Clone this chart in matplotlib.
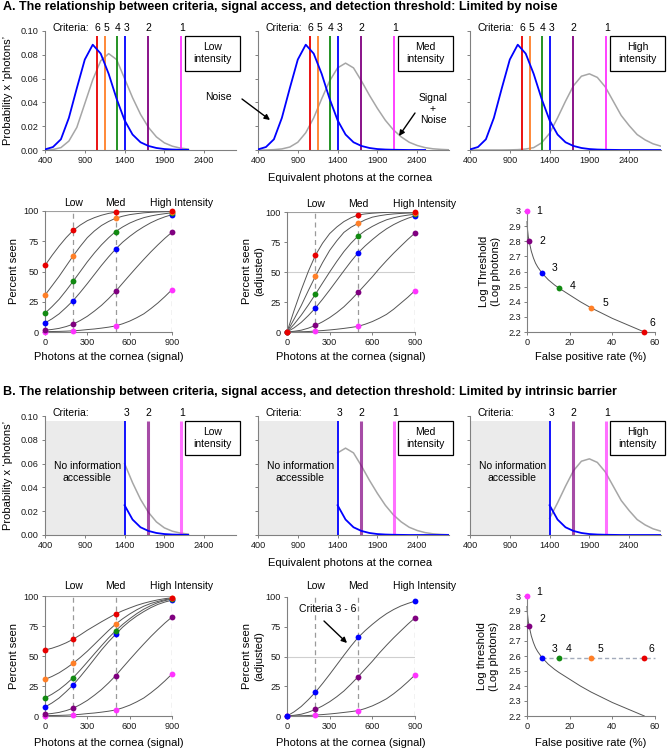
import matplotlib
matplotlib.use('Agg')
import matplotlib.pyplot as plt
from matplotlib.patches import Rectangle
from matplotlib.ticker import FormatStrFormatter

plt.rcParams['font.family'] = ['Liberation Sans', 'DejaVu Sans']

# ---------------- data ----------------
criteria_labels = ['1', '2', '3', '4', '5', '6']
criteria_x = [2110, 1690, 1410, 1300, 1160, 1050]
criteria_colors = ['#ff33ff', '#800080', '#0000ff', '#128a12', '#ff7f27', '#e80000']

photons = [400, 500, 600, 700, 800, 900, 1000, 1100, 1200, 1300, 1400, 1500, 1600,
           1700, 1800, 1900, 2000, 2100, 2200, 2300, 2400, 2500, 2600, 2700, 2800]
noise = [0.0005, 0.0025, 0.009, 0.027, 0.052, 0.076, 0.0885, 0.081, 0.064, 0.043, 0.025,
         0.013, 0.0065, 0.0034, 0.0017, 0.0008, 0.0004, 0.0002, 0.0001, 0, 0, 0, 0, 0, 0]
signal_low = [0, 0.0004, 0.002, 0.0075, 0.019, 0.039, 0.059, 0.075, 0.081, 0.076, 0.060,
              0.044, 0.030, 0.019, 0.011, 0.006, 0.0032, 0.0016, 0.0008, 0.0004, 0.0002,
              0.0001, 0, 0, 0]
signal_med = [0, 0, 0.0003, 0.0009, 0.0025, 0.0065, 0.0145, 0.027, 0.043, 0.058, 0.069,
              0.073, 0.069, 0.058, 0.046, 0.035, 0.025, 0.017, 0.011, 0.0065, 0.0038,
              0.002, 0.001, 0.0005, 0.0002]
signal_high = [0, 0, 0, 0, 0, 0.0001, 0.0003, 0.0008, 0.002, 0.006, 0.014, 0.027, 0.041,
               0.054, 0.062, 0.064, 0.061, 0.053, 0.041, 0.029, 0.0205, 0.013, 0.0085,
               0.0052, 0.0032]
dist_ticks = [400, 900, 1400, 1900, 2400]
intensity_names = ['Low\nintensity', 'Med\nintensity', 'High\nintensity']

curve_signal = [0, 50, 100, 150, 200, 250, 300, 350, 400, 450, 500, 550, 600, 650, 700,
                750, 800, 850, 900]
dot_signal = [0, 200, 500, 900]
intensity_signal = [200, 500, 900]
intensity_labels = ['Low', 'Med', 'High Intensity']

# percent seen, limited by noise (criteria 1..6)
seen_noise = [
    [0.3, 0.4, 0.5, 0.7, 1, 1.4, 2, 2.5, 3.2, 4, 5, 6.8, 9, 11.8, 15, 19.3, 24, 29.3, 35],
    [1.5, 2.1, 3, 4.5, 6.5, 9.5, 13, 17.3, 22, 27.5, 33.5, 40.3, 47, 53.6, 60, 66.2, 72, 77.5, 82.5],
    [7.5, 10.9, 15, 20.3, 26, 32.8, 40, 47.5, 55, 62, 68.5, 74.2, 79, 83.3, 87, 90.3, 93, 95.2, 97],
    [15.5, 21, 27, 34.3, 42, 50, 58, 65.3, 72, 77.8, 83, 86.8, 90, 92.5, 94.5, 95.9, 97, 97.8, 98.5],
    [30.5, 38.2, 46, 54.5, 63, 70.8, 78, 83.5, 88, 91.3, 94, 95.7, 97, 97.8, 98.5, 98.9, 99.2, 99.4, 99.5],
    [55, 63.3, 71, 78, 84, 88.4, 92, 94.5, 96.5, 98, 99, 99.4, 99.6, 99.8, 99.9, 100, 100, 100, 100],
]
seen_noise_adj = [
    [0, 0.1, 0.2, 0.4, 0.8, 1.2, 1.7, 2.3, 3, 3.8, 4.7, 6.5, 8.7, 11.5, 14.7, 19, 24, 29, 34.5],
    [0, 0.6, 1.5, 3.2, 5.5, 8.5, 12, 16.2, 21, 26.8, 33, 39.5, 46, 53, 59.5, 65.7, 71.5, 77.2, 82.5],
    [0, 3.5, 8, 13.7, 20, 27.3, 35, 43, 51, 58.8, 66, 71.8, 77, 81.8, 86, 89.5, 92.4, 94.8, 96.8],
    [0, 6.5, 14, 22.5, 31.5, 40.8, 50, 58.8, 67, 74, 80, 84.5, 88, 91, 93.5, 95.2, 96.5, 97.4, 98.2],
    [0, 10.8, 22, 34.5, 46.5, 57.8, 68, 76, 83, 87.3, 90.5, 93.5, 95.7, 96.9, 97.8, 98.4, 98.8, 99.1, 99.3],
    [0, 18, 35, 50.5, 64, 74, 82, 87.5, 92, 95.2, 97.5, 98.4, 99, 99.4, 99.7, 99.9, 100, 100, 100],
]
# percent seen, limited by intrinsic barrier
seen_barrier = [
    [0.3, 0.4, 0.5, 0.7, 1, 1.4, 2, 2.5, 3.2, 4, 5, 6.8, 9, 11.8, 15, 19.3, 24, 29.3, 35],
    [1.5, 2.1, 3, 4.5, 6.5, 9.5, 13, 17.3, 22, 27.5, 33.5, 40.3, 47, 53.6, 60, 66.2, 72, 77.5, 82.5],
    [7.5, 10.9, 15, 20.3, 26, 32.8, 40, 47.5, 55, 61.8, 68, 74, 79, 83.3, 87, 90.3, 93, 95, 96.5],
    [15, 18.2, 22, 26.7, 32, 38.3, 45, 51.8, 58.5, 65, 71, 76.3, 81, 85.3, 89, 92, 94.5, 96.2, 97.5],
    [30.5, 33, 36, 39.8, 44, 48.8, 54, 59.7, 65.5, 71.2, 76.5, 81, 85, 88.5, 91.5, 93.8, 95.5, 96.9, 98],
    [55, 56.5, 58.5, 61, 64, 67.6, 71.5, 75, 78.5, 81.8, 85, 87.7, 90, 92.2, 94, 95.5, 96.8, 97.8, 98.5],
]
seen_barrier_adj = [
    [0, 0.1, 0.2, 0.4, 0.8, 1.2, 1.7, 2.3, 3, 3.7, 4.5, 6.3, 8.5, 11.3, 14.5, 18.7, 23.5, 28.8, 34.5],
    [0, 0.6, 1.5, 3.2, 5.5, 8.5, 12, 16.2, 21, 26.8, 33, 39.5, 46, 53, 59.5, 65.7, 71.5, 77.2, 82.5],
    [0, 3.5, 8, 13.7, 20, 27.3, 35, 43, 51, 58.8, 66, 71.8, 77, 81.8, 86, 89.5, 92.4, 94.6, 96.5],
]

fp_rate = [0, 1, 7, 15, 30, 55]
log_thresh_noise = [3.0, 2.8, 2.59, 2.49, 2.36, 2.2]
log_thresh_barrier = [3.0, 2.8, 2.59, 2.59, 2.59, 2.59]
fp_curve_x = [0, 0.1, 0.3, 0.6, 1, 2, 3, 4, 5, 7, 10, 13, 15, 20, 25, 30, 35, 40, 45, 50, 55]
fp_curve_y = [2.93, 2.9, 2.87, 2.83, 2.8, 2.735, 2.69, 2.655, 2.63, 2.59, 2.545, 2.51, 2.49,
              2.445, 2.4, 2.36, 2.325, 2.29, 2.26, 2.23, 2.2]
thr_ticks = [2.2, 2.3, 2.4, 2.5, 2.6, 2.7, 2.8, 2.9, 3.0]
thr_tick_labels = ['2.2', '2.3', '2.4', '2.5', '2.6', '2.7', '2.8', '2.9', '3']

# ---------------- figure ----------------
W, H = 667, 750
fig = plt.figure(figsize=(W / 100, H / 100), dpi=100)
fig.patch.set_facecolor('white')


def add_ax(l, t, r, b):
    return fig.add_axes([l / W, 1 - b / H, (r - l) / W, (b - t) / H])


ov = fig.add_axes([0, 0, 1, 1], zorder=20)
ov.set_xlim(0, W)
ov.set_ylim(H, 0)
ov.axis('off')
ov.patch.set_alpha(0)

SP = '#808080'
TFS = 6.6
LFS = 8
SFS = 7.5
CURVE = '#555555'


def base_style(ax):
    for s in ('top', 'right'):
        ax.spines[s].set_visible(False)
    for s in ('left', 'bottom'):
        ax.spines[s].set_color(SP)
        ax.spines[s].set_linewidth(0.8)
    ax.tick_params(direction='out', length=2.5, width=0.7, color=SP,
                   labelsize=TFS, labelcolor='#1a1a1a', pad=2)
    ax.patch.set_alpha(0)


def dist_panel(ax, sig, first, barrier, blue_end, gray_end):
    base_style(ax)
    ax.set_xlim(400, 2800)
    ax.set_ylim(0, 0.1)
    ax.set_xticks(dist_ticks)
    ax.set_yticks([0, 0.02, 0.04, 0.06, 0.08, 0.10])
    ax.yaxis.set_major_formatter(FormatStrFormatter('%.2f'))
    if not first:
        ax.tick_params(labelleft=False)
    top = 0.096
    if barrier:
        ax.axvspan(400, 1400, ymin=0, ymax=top / 0.1, color='#ebebeb', lw=0, zorder=0)
        ax.text(930, 0.053, 'No information\naccessible', ha='center', va='center',
                fontsize=SFS, linespacing=1.25)
        start, ncrit = 1400, 3
    else:
        start, ncrit = 400, 6
    gx = [x for x in photons if start <= x <= gray_end]
    gy = [v for x, v in zip(photons, sig) if start <= x <= gray_end]
    ax.plot(gx, gy, color='#a6a6a6', lw=1.1, zorder=2)
    for i in range(ncrit):
        if barrier and i < 2:
            ax.vlines(criteria_x[i], 0, top, color=criteria_colors[i], lw=2.2, alpha=0.7, zorder=3)
        else:
            ax.vlines(criteria_x[i], 0, top, color=criteria_colors[i], lw=1.3, zorder=3)
        ax.text(criteria_x[i] + 10, 0.1025, criteria_labels[i], ha='center', va='center',
                fontsize=SFS, clip_on=False)
    ax.text(490, 0.1025, 'Criteria:', ha='left', va='center', fontsize=SFS, clip_on=False)
    bx = [x for x in photons if start <= x <= blue_end]
    by = [v for x, v in zip(photons, noise) if start <= x <= blue_end]
    ax.plot(bx, by, color='#0000ff', lw=1.3, zorder=4)


def pct_panel(ax, curves, top_line, mid_line, lab_y):
    base_style(ax)
    ax.set_xlim(0, 900)
    ax.set_ylim(0, 100)
    ax.set_xticks([0, 300, 600, 900])
    ax.set_yticks([0, 25, 50, 75, 100])
    for s in intensity_signal:
        ax.axvline(s, color='#9a9a9a', lw=0.9, ls=(0, (4, 3)), zorder=1)
    if top_line:
        ax.axhline(100, color='#a0a0a0', lw=0.8, zorder=1)
    if mid_line:
        ax.axhline(50, color='#cfcfcf', lw=0.8, zorder=1)
    for vals in curves:
        ax.plot(curve_signal, vals, color=CURVE, lw=0.7, zorder=2)
    for ci, vals in enumerate(curves):
        dots = [vals[curve_signal.index(s)] for s in dot_signal]
        ax.plot(dot_signal, dots, 'o', color=criteria_colors[ci], ms=4.2, mew=0,
                zorder=5, clip_on=False)
    for s, name in zip(intensity_signal, intensity_labels):
        xo = 65 if name.startswith('High') else 0
        ax.text(s + xo, lab_y, name, ha='center', va='center', fontsize=SFS, clip_on=False)


def thr_panel(ax, thr, barrier, offs):
    base_style(ax)
    ax.set_xlim(0, 60)
    ax.set_ylim(2.2, 3.0)
    ax.set_xticks([0, 20, 40, 60])
    ax.set_yticks(thr_ticks)
    ax.set_yticklabels(thr_tick_labels)
    ax.plot(fp_curve_x, fp_curve_y, color=CURVE, lw=0.7, zorder=2, clip_on=False)
    if barrier:
        ax.plot([fp_rate[2], 60], [thr[2], thr[2]], color='#a3abbb', lw=1.0,
                ls=(0, (3, 2)), zorder=3, clip_on=False)
    for i in range(len(fp_rate)):
        ax.plot(fp_rate[i], thr[i], 'o', color=criteria_colors[i], ms=4.2, mew=0,
                zorder=5, clip_on=False)
        ax.annotate(criteria_labels[i], (fp_rate[i], thr[i]),
                    xytext=(offs[i][0] * 0.72, offs[i][1] * 0.72), textcoords='offset points',
                    ha='center', va='center', fontsize=SFS)


dist_cols = [(45, 236), (258, 449), (470, 661)]
sigs = [signal_low, signal_med, signal_high]

# Row A1
blue_end_A = [2250, 2520, 2800]
gray_end_A = [2250, 2800, 2800]
for k, (l, r) in enumerate(dist_cols):
    ax = add_ax(l, 31, r, 150)
    dist_panel(ax, sigs[k], k == 0, False, blue_end_A[k], gray_end_A[k])
    ov.add_patch(Rectangle((l + 140, 36), 55, 35, fill=False, ec='black', lw=0.9))
    ov.text(l + 167.5, 53.5, intensity_names[k], ha='center', va='center', fontsize=SFS,
            linespacing=1.25)

# Row B1
blue_end_B = [2250, 2800, 2800]
gray_end_B = [2250, 2800, 2800]
for k, (l, r) in enumerate(dist_cols):
    ax = add_ax(l, 416, r, 535)
    dist_panel(ax, sigs[k], k == 0, True, blue_end_B[k], gray_end_B[k])
    ov.add_patch(Rectangle((l + 140, 421), 55, 34, fill=False, ec='black', lw=0.9))
    ov.text(l + 167.5, 438, intensity_names[k], ha='center', va='center', fontsize=SFS,
            linespacing=1.25)

# Row A2
pct_panel(add_ax(45, 211, 172, 332), seen_noise, True, False, 106.8)
pct_panel(add_ax(287, 212, 415, 332), seen_noise_adj, True, True, 107)
thr_panel(add_ax(527, 211, 655, 332), log_thresh_noise, False,
          [(12, 0), (13, 0), (13, 5), (14, 2), (14, 5), (8, 9)])

# Row B2
pct_panel(add_ax(45, 596, 172, 716), seen_barrier, True, False, 108.5)
pct_panel(add_ax(287, 597, 415, 716), seen_barrier_adj, False, True, 109)
thr_panel(add_ax(527, 596, 655, 716), log_thresh_barrier, True,
          [(12, 4), (13, 7), (13, 9), (10, 9), (9, 9), (7, 9)])

# ---------------- titles, labels, annotations ----------------
ov.text(3, 7, 'A. The relationship between criteria, signal access, and detection threshold: Limited by noise',
        ha='left', va='center', fontsize=9.0, fontweight='bold')
ov.text(3, 392, 'B. The relationship between criteria, signal access, and detection threshold: Limited by intrinsic barrier',
        ha='left', va='center', fontsize=9.0, fontweight='bold')

for yc in (90.5, 475.5):
    ov.text(8, yc, 'Probability x \u2018photons\u2019', rotation=90, ha='center', va='center', fontsize=LFS)
ov.text(350, 178, 'Equivalent photons at the cornea', ha='center', va='center', fontsize=LFS)
ov.text(350, 563, 'Equivalent photons at the cornea', ha='center', va='center', fontsize=LFS)

for yc, yx in ((271.5, 357), (656, 743)):
    ov.text(14, yc, 'Percent seen', rotation=90, ha='center', va='center', fontsize=LFS)
    ov.text(253.5, yc, 'Percent seen\n(adjusted)', rotation=90, ha='center', va='center',
            fontsize=LFS, linespacing=1.3)
    ov.text(108.5, yx, 'Photons at the cornea (signal)', ha='center', va='center', fontsize=LFS)
    ov.text(351, yx, 'Photons at the cornea (signal)', ha='center', va='center', fontsize=LFS)
    ov.text(591, yx, 'False positive rate (%)', ha='center', va='center', fontsize=LFS)
ov.text(490, 271.5, 'Log Threshold\n(Log photons)', rotation=90, ha='center', va='center',
        fontsize=LFS, linespacing=1.3)
ov.text(488, 656, 'Log threshold\n(Log photons)', rotation=90, ha='center', va='center',
        fontsize=LFS, linespacing=1.3)

arrow = dict(arrowstyle='-|>', color='black', lw=1.0, mutation_scale=8, shrinkA=0, shrinkB=0)
ov.text(218, 97, 'Noise', ha='center', va='center', fontsize=SFS)
ov.annotate('', xy=(270, 120), xytext=(242, 99), arrowprops=arrow)
ov.text(433, 109, 'Signal\n+\nNoise', ha='center', va='center', fontsize=SFS, linespacing=1.15)
ov.annotate('', xy=(399, 136), xytext=(415, 113), arrowprops=arrow)
ov.text(328, 609, 'Criteria 3 - 6', ha='center', va='center', fontsize=SFS)
ov.annotate('', xy=(347, 643), xytext=(324, 621), arrowprops=arrow)

fig.savefig('out.png', dpi=100)
